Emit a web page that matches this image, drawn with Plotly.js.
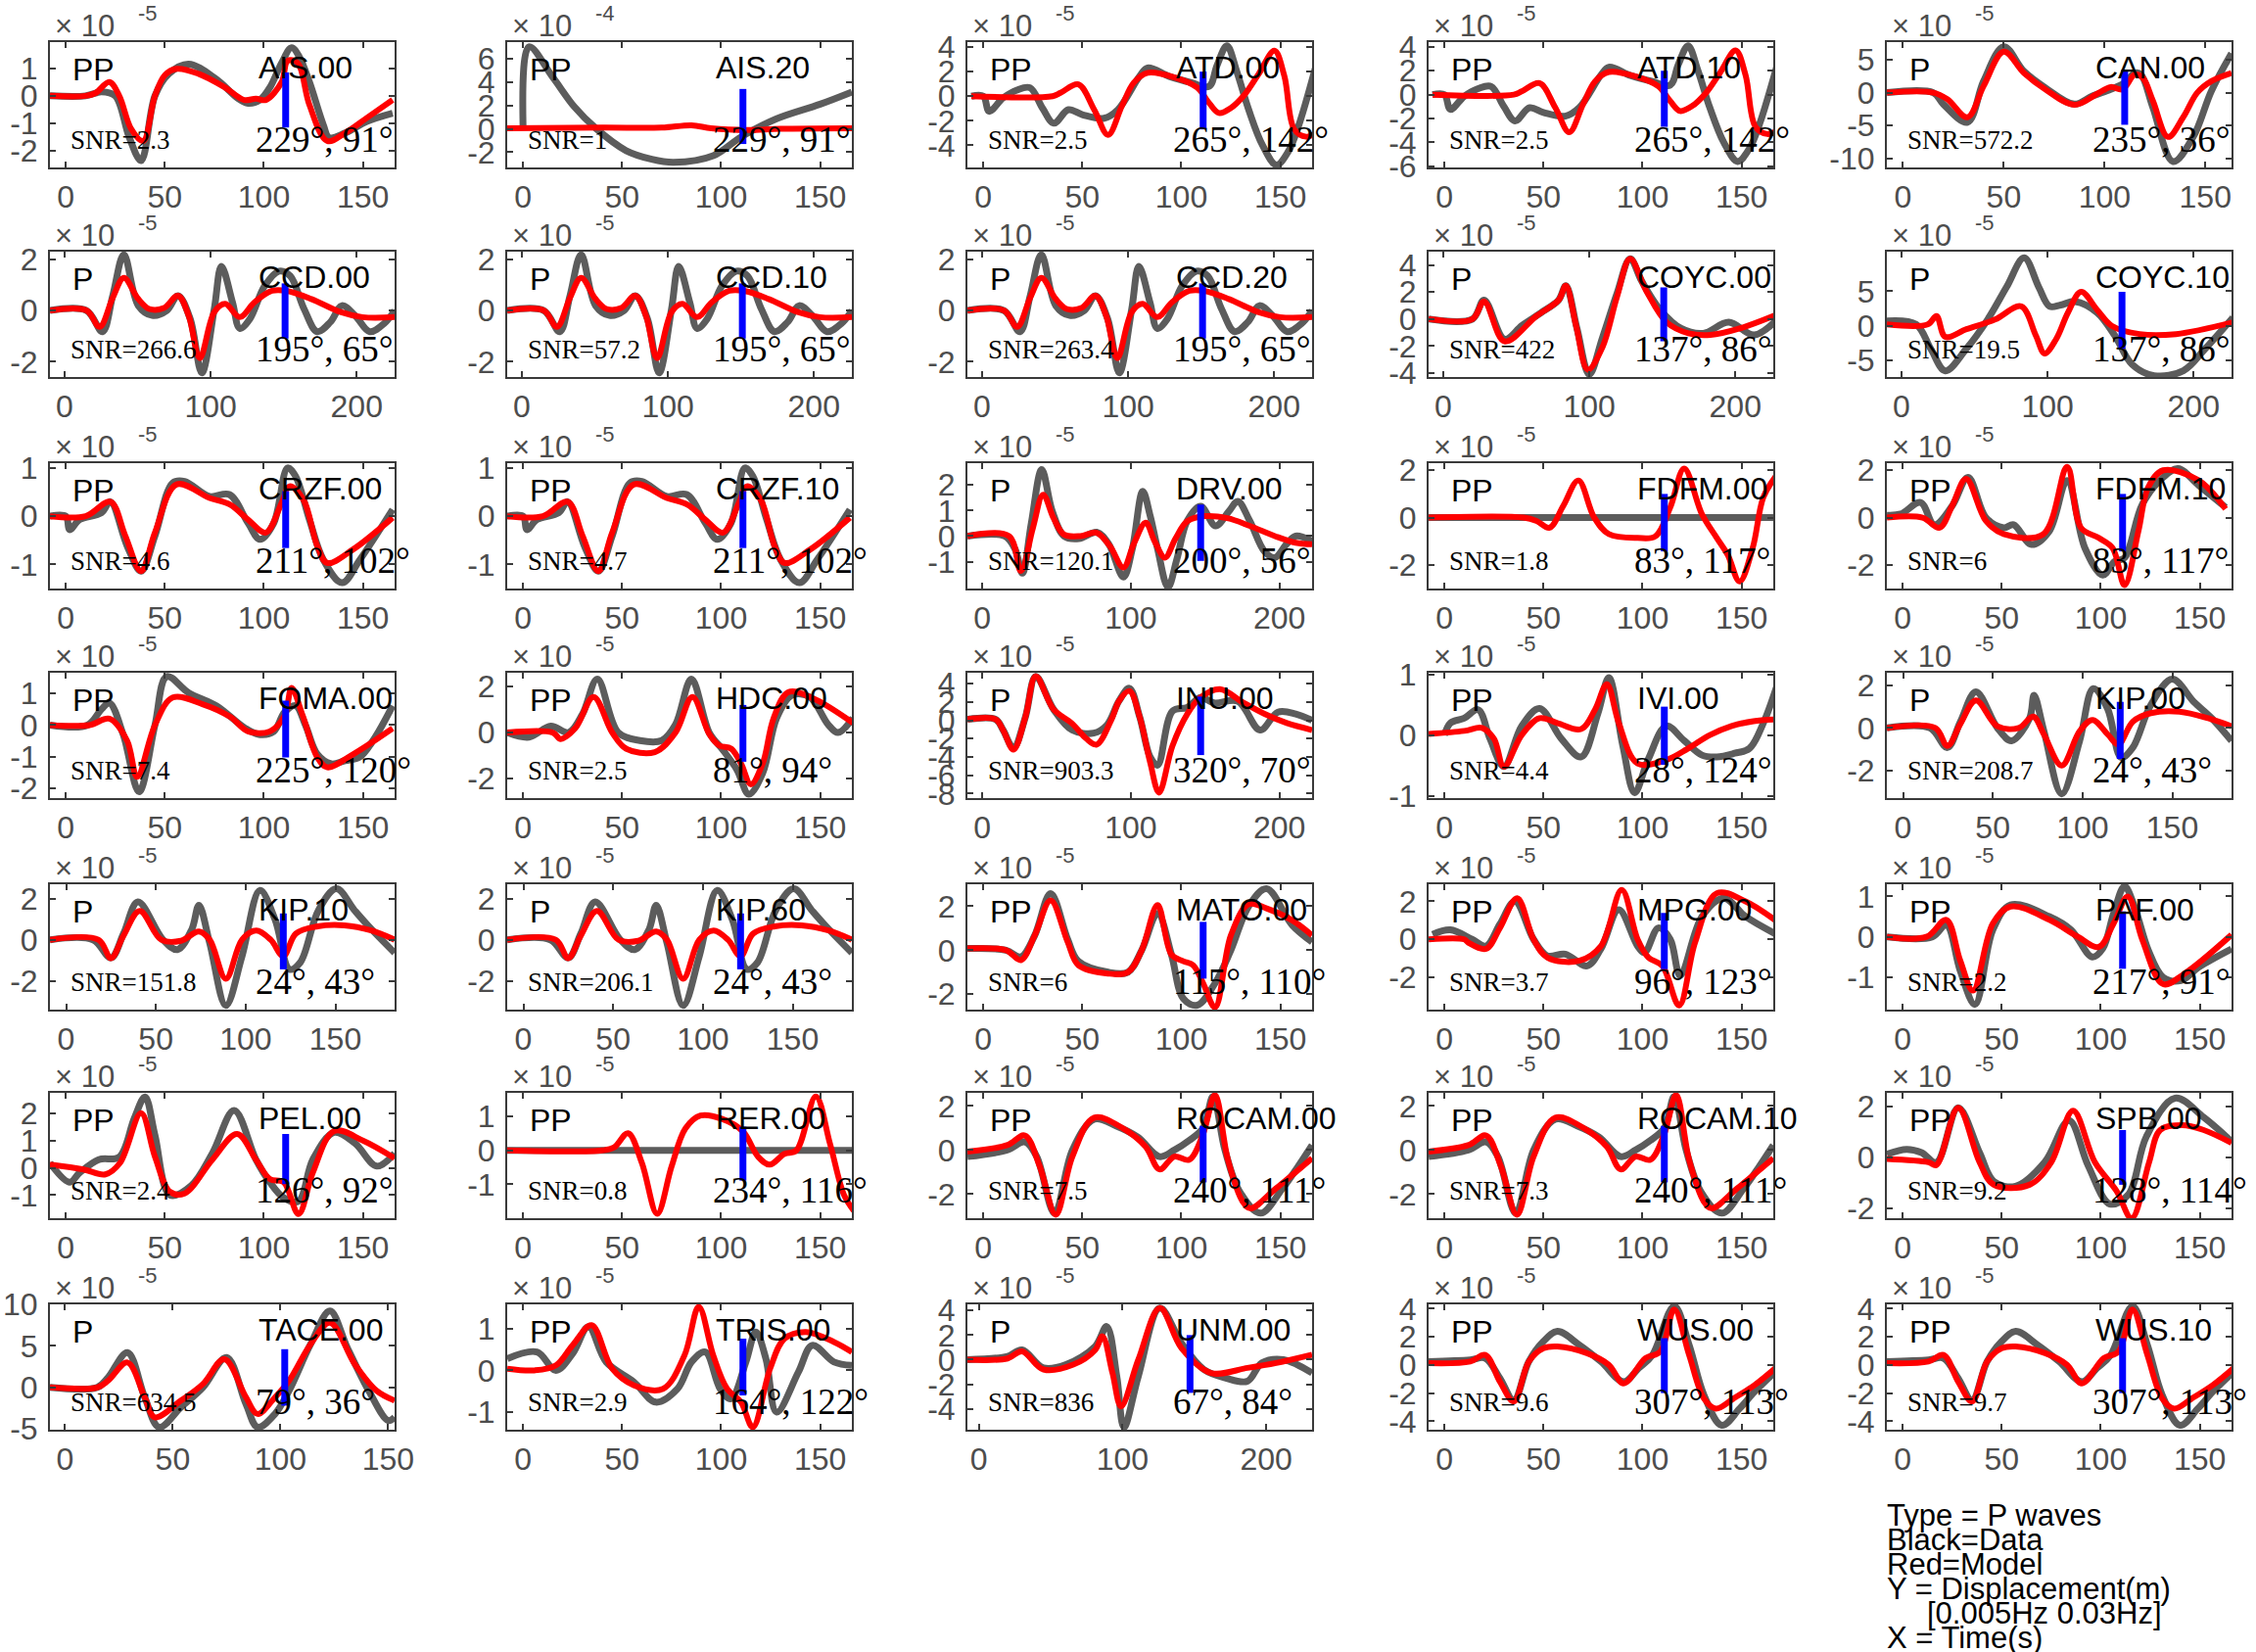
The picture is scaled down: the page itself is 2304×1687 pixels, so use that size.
<!DOCTYPE html>
<html><head><meta charset="utf-8">
<script src="https://cdn.plot.ly/plotly-3.0.1.min.js"></script>
<style>body{margin:0;background:#fff}</style>
</head><body><div id="chart" style="width:2304px;height:1687px"></div>
<script>
// ---------------- data (time s, displacement in units of 10^exp m) ----------------
const stations = ['AIS.00','AIS.20','ATD.00','ATD.10','CAN.00','CCD.00','CCD.10','CCD.20','COYC.00','COYC.10','CRZF.00','CRZF.10','DRV.00','FDFM.00','FDFM.10','FOMA.00','HDC.00','INU.00','IVI.00','KIP.00','KIP.10','KIP.60','MATO.00','MPG.00','PAF.00','PEL.00','RER.00','ROCAM.00','ROCAM.10','SPB.00','TACE.00','TRIS.00','UNM.00','WUS.00','WUS.10'];
const phases = ['PP','PP','PP','PP','P','P','P','P','P','P','PP','PP','P','PP','PP','PP','PP','P','PP','P','P','P','PP','PP','PP','PP','PP','PP','PP','PP','P','PP','P','PP','PP'];
const snr = ['2.3','1','2.5','2.5','572.2','266.6','57.2','263.4','422','19.5','4.6','4.7','120.1','1.8','6','7.4','2.5','903.3','4.4','208.7','151.8','206.1','6','3.7','2.2','2.4','0.8','7.5','7.3','9.2','634.5','2.9','836','9.6','9.7'];
const azimuth = [229,229,265,265,235,195,195,195,137,137,211,211,200,83,83,225,81,320,28,24,24,24,115,96,217,126,234,240,240,128,79,164,67,307,307];
const distance = [91,91,142,142,36,65,65,65,86,86,102,102,56,117,117,120,94,70,124,43,43,43,110,123,91,92,116,111,111,114,36,122,84,113,113];
const exponent = [-5,-4,-5,-5,-5,-5,-5,-5,-5,-5,-5,-5,-5,-5,-5,-5,-5,-5,-5,-5,-5,-5,-5,-5,-5,-5,-5,-5,-5,-5,-5,-5,-5,-5,-5];

const AIS00_data = [[-8,0],[10,0],[15,0.1],[18,0.15],[25,0],[32,-1.5],[38,-2.35],[45,0],[52,0.8],[62,1.15],[76,0.6],[87,-0.1],[92,-0.27],[98,-0.15],[103,0.3],[109,1.2],[114,1.75],[118,1.4],[123,0.5],[130,-1.05],[133,-1.52],[141,-1.35],[152,-0.93],[165,-0.63]];
const AIS00_model = [[-8,0],[10,0],[15,0.1],[22,0.5],[27,0],[33,-1.2],[39,-1.64],[45,0],[50,0.75],[56,0.98],[67,0.8],[80,0.32],[90,-0.15],[96,-0.1],[101,-0.15],[109,0.5],[112,1.27],[117,1.2],[123,-0.33],[132,-1.64],[141,-1.35],[152,-0.8],[165,-0.15]];
const AIS20_data = [[0,0.2],[3,7.0],[15,4.4],[26,1.86],[37,0],[52,-1.86],[65,-2.6],[76,-2.86],[96,-2.3],[110,-0.7],[128,0.86],[150,2.1],[166,3.14]];
const AIS20_model = [[-8,0.05],[40,0.1],[70,0.1],[85,0.3],[95,0.05],[113,-0.1],[130,0.0],[166,0.05]];
const ATD_data = [[-6,0],[0,0],[3,-1.23],[10,-0.14],[17,0.5],[23.6,0.68],[30,-1.0],[35.6,-2.2],[43,-1.1],[50,-1.5],[61,-1.8],[68,-1.1],[79,1.64],[83,2.3],[94,1.6],[105,1.1],[114,0.8],[118,2.5],[123,4.1],[128,2.0],[134,-1.1],[141,-4.0],[148,-5.6],[154,-4.5],[159,-2.5],[168,2.5]];
const ATD_model = [[-6,0],[35,0],[39,0.27],[48,0.96],[56,-1.1],[63,-3.15],[70,-0.8],[76,1.1],[83,1.9],[97,1.5],[108,0.7],[114,-0.55],[119,-1.37],[125,-0.96],[132,0.14],[139,1.8],[147,3.7],[152,1.64],[157,-2.7],[163,-3.3],[168,-3.0]];
const CAN_data = [[-8,0],[15,0],[20,-1.75],[32,-4.5],[40,1.75],[50,7.0],[60,3.25],[70.6,0.75],[85,-1.75],[94,-0.5],[103,0.5],[110,1.5],[115,3.0],[118,2.8],[124,-2.25],[134,-10.5],[144,-6.75],[153,0.25],[163,6.0]];
const CAN_model = [[-8,0],[15,0],[22,-1.0],[32,-3.75],[40,1.0],[50,6.25],[60,3.0],[70.6,0.5],[85,-1.85],[96,-0.25],[103,0.85],[109,0.5],[115,2.75],[119,2.25],[124,-1.25],[131.5,-6.75],[139,-3.75],[146,0],[153,1.75],[163,3.0]];
const CCD_data = [[-10,0],[15,0],[26,-0.83],[33,0.58],[40.6,2.18],[50.5,0.19],[60,-0.19],[70,0],[77.7,0.58],[86,-0.32],[94,-2.44],[102.5,0.06],[107.4,1.73],[115,0.32],[120,-0.7],[127,-0.32],[137,0.96],[147,1.54],[154.5,1.35],[164,0.06],[173,-0.83],[182,-0.45],[190,0.19],[199,-0.2],[209,-0.83],[219,-0.5],[226,0]];
const CCD_model = [[-10,0],[15,0],[24,-0.64],[33,0.5],[40.6,1.28],[50.5,0.45],[58,0.06],[68,0.1],[77.7,0.58],[85,-0.2],[92.6,-1.86],[102.5,-0.06],[110,0.26],[120,-0.26],[130,0.32],[142,0.77],[152,0.77],[169,0.45],[189,-0.06],[204,-0.26],[226,-0.26]];
const COYC00_data = [[-10,0],[20,0],[28,1.4],[42,-1.5],[54,-0.47],[67,0.47],[79,1.4],[84,2.47],[91.6,-0.7],[100,-4.1],[109,-1.4],[119,1.9],[128,4.47],[136,2.8],[148.5,0.7],[163,-0.7],[178,-1.06],[195.5,-0.24],[213,-1.18],[229,0]];
const COYC00_model = [[-10,0],[20,0],[28,1.3],[42,-1.65],[64,0.24],[79,1.4],[84,2.47],[91,-0.5],[99,-3.76],[109,-2.1],[119,1.65],[128,4.47],[139,2.1],[153,-0.24],[168,-1.06],[183,-1.18],[203,-0.7],[229,0.35]];
const COYC10_data = [[-10,0.7],[10,0.2],[20,-3.3],[30,-6.5],[44.5,-3.3],[59,0.9],[72,5.6],[84,9.8],[94,5.6],[101.5,2.8],[109,3.0],[119,3.5],[134,1.9],[146,-1.4],[158,-5.6],[173,-7.2],[193,-6.5],[208,-3.3],[227,1.2]];
const COYC10_model = [[-10,0.2],[18,0.2],[24,1.4],[30,-1.6],[44.5,-0.5],[64,0.9],[82,2.8],[92,-1.4],[98,-4.0],[106,-1.9],[114,1.9],[123,4.9],[134,2.3],[144,0],[163,-1.2],[188,-1.2],[227,0.5]];
const CRZF_data = [[-8,0],[0,0],[2,-0.28],[7,-0.07],[18,0.07],[22.5,0.3],[31,-0.62],[38,-1.14],[45,-0.41],[54,0.69],[60,0.72],[72.5,0.41],[82.6,0.45],[92,-0.14],[98,-0.48],[105,-0.14],[112,1.0],[116,0.83],[123,-0.07],[130,-0.9],[139.5,-1.38],[148.5,-0.9],[165,0.14]];
const CRZF_model = [[-8,0],[10,0],[22.5,0.3],[30,-0.4],[38,-1.14],[45,-0.34],[56,0.66],[72.5,0.38],[83,0.24],[92,-0.07],[101,-0.34],[109,0.28],[113,0.62],[120,0.34],[127,-0.62],[132,-0.97],[145,-0.69],[165,-0.03]];
const DRV_data = [[-10,0],[15,0],[22,-0.5],[27,-1.45],[33,0.5],[40,2.6],[47,1.0],[55,0.0],[65,-0.1],[77,0.15],[85,-0.3],[95,-1.6],[101,-0.5],[108,1.75],[113,0.8],[118,-0.5],[125,-2.0],[131,-0.9],[138,0.6],[147,1.17],[157,0.4],[166,0.97],[172,1.36],[180,0.6],[190,-0.6],[197,-0.84],[205,-0.3],[211,0],[222,-0.2]];
const DRV_model = [[-10,0],[18,0],[26,-1.36],[34,0.3],[41,1.62],[48,0.7],[55,0.06],[66,0.0],[77,0.13],[86,-0.4],[95,-1.23],[102,-0.3],[110,0.52],[116,-0.2],[123,-0.84],[130,-0.1],[138,0.58],[150,0.78],[165,0.7],[180,0.4],[197,0],[211,-0.26],[222,-0.32]];
const FDFM00_data = [[-8,0],[80,0],[166,0]];
const FDFM00_model = [[-8,0],[40,0],[46.5,-0.14],[53,-0.43],[60,0.5],[67.6,1.57],[75.6,0],[83,-0.7],[97.5,-0.86],[106.5,-0.79],[114,0.43],[121,2.07],[130,0.14],[137.5,-0.86],[143,-1.57],[149,-2.7],[155.6,-1.29],[161,0.86],[167.6,1.79]];
const FDFM10_data = [[-8,0.1],[-1,0.15],[9,0.64],[16,-0.3],[25,0.5],[33,1.7],[42,0],[51,-0.43],[56,-0.3],[65,-1.14],[74,-0.57],[83,1.57],[92,-1.29],[101,-2.43],[107,-1.86],[112,-1.7],[121,0.57],[131.5,1.7],[139,2.07],[149.5,1.36],[163,0.43]];
const FDFM10_model = [[-8,0],[10,0],[18.6,-0.43],[25,0.5],[32,1.64],[42,-0.14],[51,-0.7],[71,-0.7],[83,2.14],[90,-0.43],[99,-0.86],[106,-1.29],[112,-2.86],[119,-0.57],[124,1.29],[131.5,2.0],[149.5,1.57],[163,0.36]];
const FOMA_data = [[-8,0],[11,0],[18,0.5],[22,0.7],[29,-0.3],[37,-2.1],[45,0],[51,1.53],[62,1.02],[76,0.61],[90.6,-0.1],[98,-0.3],[105,-0.2],[110.5,0.41],[116,0.61],[121,0],[127,-0.92],[134,-1.22],[141,-1.12],[148.5,-1.0],[156,-0.4],[165,0.61]];
const FOMA_model = [[-8,0],[12,0],[22,0.2],[31,-0.5],[36,-1.63],[45,0],[54,0.87],[69,0.66],[83,0.26],[92,-0.2],[103,-0.2],[110.5,0.3],[114,1.17],[119.6,0.3],[127,-1.02],[132,-1.33],[145,-0.92],[165,-0.1]];
const HDC_data = [[-8,0],[3,-0.2],[14,0.28],[23,0],[30,0.8],[37.5,2.32],[48,0],[59,-0.35],[70,-0.35],[77,0.35],[85,2.32],[94,0],[101,-0.77],[108,-1.62],[114,-2.68],[121,-1.76],[128,0.63],[135.6,1.62],[144.7,1.55],[154,0.35],[159,0],[166.5,0.63]];
const HDC_model = [[-8,0],[15,0],[19,-0.28],[26.5,0.2],[35.6,1.55],[45,0],[52,-0.7],[66.5,-0.85],[77,0],[85.5,1.55],[94,-0.07],[99,-0.56],[105,-0.7],[110,-1.34],[115,-2.25],[121,-1.34],[126.5,0.63],[134,1.76],[146.5,1.48],[166.5,0.42]];
const INU_data = [[-10,0.1],[9,0.1],[14,-1.06],[21,-3.0],[29,0.35],[36,4.8],[48,1.2],[60.5,-1.06],[75,-1.4],[84,-0.5],[92,2.1],[99,3.5],[106,0.35],[113,-4.0],[118,-4.9],[128,1.0],[138,1.4],[147,2.5],[156,1.9],[172,2.1],[187,-1.06],[199,0.9],[211,0.7],[222,0]];
const INU_model = [[-10,0.1],[9,0.1],[14,-1.06],[21,-3.2],[29,0.35],[36,4.8],[48,1.2],[60.5,-0.35],[70,-2.0],[77,-2.65],[87,0.1],[92,2.1],[99,3.2],[106,0.35],[113,-4.6],[119,-7.9],[128,-2.8],[138,0.7],[147,2.5],[160,3.4],[175,2.0],[190,0.7],[205,-0.3],[222,-1.06]];
const IVI_data = [[0,0.0],[3,0.2],[10,0.28],[17,0.42],[23,-0.06],[30,-0.52],[39,0.15],[48,0.44],[59,-0.06],[69,-0.36],[77.5,0.36],[83,0.95],[90,-0.17],[96,-0.95],[103,-0.39],[112,0.15],[121,-0.09],[130,-0.33],[137.5,-0.36],[146.5,-0.3],[154,-0.22],[161,0.2],[167.6,0.79]];
const IVI_model = [[-8,0.02],[10,0.07],[19,0.12],[25,-0.06],[30,-0.52],[39,0],[48,0.28],[57,0.2],[69,0.1],[76,0.42],[82,0.84],[88,0.2],[97.5,-0.47],[112,-0.41],[123,-0.22],[134,0],[145,0.15],[156,0.23],[167.6,0.26]];
const KIP00_data = [[-9,0],[15,0],[24.7,-0.92],[32,0.3],[40.6,1.7],[52.6,0],[60.5,-0.6],[70.5,0.46],[73,1.54],[78.5,-0.15],[88.4,-3.1],[98.4,-0.6],[106,1.85],[114,0.9],[121.5,-1.38],[128,-0.92],[138,1.08],[150,2.3],[162,1.23],[172,0.46],[183,-0.6]];
const KIP00_model = [[-9,0],[18,0],[24.7,-0.85],[32,0.2],[40.6,1.3],[52.6,0.08],[64.5,0],[72.5,0.54],[78.5,-0.3],[88.4,-1.77],[98.4,-0.15],[105.6,0.38],[114,-0.3],[120,-0.77],[128,0.3],[138,0.7],[154,0.77],[170,0.46],[183,0.08]];
const KIP10_data = [[-9,0],[15,0],[25,-0.88],[32,0.3],[40,1.84],[54,0],[62,-0.48],[70,0.5],[74,1.68],[80,-0.16],[89,-3.2],[98,-0.8],[108,2.4],[116.5,0.96],[124.5,-1.44],[130.5,-1.1],[140.6,1.44],[150.6,2.48],[160.6,1.44],[168.7,0.64],[183,-0.64]];
const KIP10_model = [[-9,0],[18,0],[25,-0.9],[32,0.2],[41,1.4],[53,0],[64,-0.05],[74,0.4],[80,0],[89,-1.9],[98,0],[106,0.45],[114,0],[121,-0.8],[128,0.3],[140,0.65],[155,0.7],[170,0.45],[183,0]];
const MATO_data = [[-8,0.08],[11.5,0],[19,-0.3],[26,0.68],[34,2.58],[42.6,0.5],[48,-0.5],[63,-1.0],[73,-1.0],[80,0],[88,1.67],[95,-0.2],[101,-2.2],[108,-2.5],[117,-1.5],[125,0],[134,2.0],[143,2.8],[156,1.14],[166,0.38]];
const MATO_model = [[-8,0.08],[11.5,0],[19,-0.45],[26,0.68],[34,2.27],[42.6,0.38],[48,-0.68],[63,-1.06],[73,-1.0],[80,0],[88,2.05],[95,-0.2],[101,-0.5],[106,-0.68],[111,-1.5],[117,-2.6],[125,0.68],[134,2.1],[143,1.9],[156,1.36],[166,0.68]];
const MPG_data = [[-6,0.26],[3,0.5],[14,0],[21,-0.35],[28,0.8],[35.6,2.0],[45,0],[52,-0.87],[61,-0.78],[72,-1.4],[79,-0.5],[88,1.56],[97.5,-0.35],[101,-0.7],[108,0.6],[114,0],[119,-1.9],[130,1.2],[141,2.17],[152,1.2],[167.6,0.26]];
const MPG_model = [[-8,0],[10,0],[12,-0.17],[21,-0.5],[28,0.6],[36.7,2.17],[45,0],[52,-0.96],[68,-1.13],[79,-0.35],[89.5,2.6],[97.5,0],[103,-0.96],[110,-1.39],[118.5,-3.48],[126.5,-0.17],[137.5,2.43],[152,2.0],[167.6,0.96]];
const PAF_data = [[-8,0],[15,0],[22,0.3],[29,-0.83],[36.5,-1.67],[45.5,0.17],[54.5,0.79],[74,0.5],[85,0.17],[95.7,-0.5],[101,-0.29],[106.5,0.58],[112,1.25],[117,0.75],[124,-0.33],[131.5,-1.0],[140.5,-1.08],[149.5,-0.75],[166,-0.3]];
const PAF_model = [[-8,0],[12,0],[22,0.42],[29,-0.58],[35.5,-1.33],[45.5,0.33],[54.5,0.75],[74,0.42],[88.5,0],[99,-0.25],[106.5,0.33],[113.6,1.0],[121,-0.08],[131.5,-1.17],[142,-0.92],[166,0.05]];
const PEL_data = [[-8,0.18],[2,-0.53],[7,-0.18],[16.6,0.3],[27,0.4],[34.6,1.82],[40,2.6],[45,1.2],[52.6,-1.0],[63.4,-0.65],[74,0.53],[85,2.1],[96,0.3],[103,-0.53],[110,-1.1],[117.5,-1.23],[124.7,0.3],[135.5,1.3],[146,0.9],[157,0.06],[166,0.53]];
const PEL_model = [[-8,0.12],[9,-0.06],[20,-0.24],[27.4,0.18],[38,2.0],[45,0.41],[52.6,-0.88],[60,-0.94],[74,0.3],[86.5,1.24],[96,0.3],[103,-0.41],[110,-0.53],[117.5,-1.7],[124.7,-0.18],[135.5,1.35],[150,1.0],[166,0.35]];
const RER_data = [[-8,0],[80,0],[167,0]];
const RER_model = [[-8,0],[40,0],[46,0.09],[53,0.51],[60,-0.37],[67.7,-1.87],[75,-0.47],[82,0.65],[89.6,1.03],[100.5,0.93],[111,0.56],[118.7,-0.19],[124.5,-0.42],[132,-0.1],[138,0],[147.8,1.59],[155,0.19],[162,-1.31],[167,-1.78]];
const ROCAM_data = [[-8,-0.3],[12,0],[21,0.37],[27,-0.3],[36,-2.87],[45,0],[56,1.4],[67,1.1],[78,0.59],[89,-0.3],[96.5,0],[104,0.44],[111,1.0],[116,2.43],[122,0],[129.5,-1.9],[140,-2.87],[151,-1.76],[159,-0.74],[166,0.22]];
const ROCAM_model = [[-8,-0.07],[12,0.22],[21,0.66],[28.5,-0.74],[36.6,-2.94],[45,-0.3],[56,1.47],[71,0.96],[82,0.15],[89,-0.88],[96.5,-0.3],[104,-0.44],[111,0.74],[117,2.5],[123.5,-0.44],[131,-2.35],[135,-2.65],[147.6,-1.76],[166,-0.37]];
const SPB_data = [[-8,0.13],[2,0.32],[9.5,0.19],[17,-0.2],[28,1.96],[38.8,0.19],[46,-0.95],[57,-1.14],[71.7,-0.19],[84,1.46],[93.6,-0.32],[104.6,-1.84],[114,-1.46],[123,0.82],[137.5,2.34],[152,1.58],[166,0.63]];
const SPB_model = [[-8,-0.06],[13,-0.19],[17,-0.3],[28,1.96],[38.8,-0.19],[46,-1.08],[64,-1.08],[75,-0.19],[86,1.84],[97,-0.19],[108,-1.33],[115.6,-2.4],[124.4,-0.19],[130,1.08],[141,1.27],[152,1.08],[166,0.57]];
const TACE_data = [[-7,0],[15,0],[20,1.2],[29,4.2],[37,-1.2],[43.7,-4.8],[53.8,-2.4],[64,0],[75,3.6],[84,-2.0],[89.4,-4.8],[97.5,-3.2],[104,-0.4],[114,5.2],[123,9.2],[131,4.8],[141,-0.4],[150,-4.0],[153,-3.6]];
const TACE_model = [[-7,0],[15,0],[20,0.8],[29,3.0],[37,-1.2],[41.7,-3.6],[53.8,-1.6],[64,0.4],[74,3.4],[84,-1.2],[89.4,-3.2],[97.5,-1.2],[104,0.8],[114,5.2],[123,7.8],[134.5,2.8],[144.6,-0.4],[153,-1.6]];
const TRIS_data = [[-8,0.28],[7,0.44],[16.6,0],[25,0.4],[33,1.04],[42,0.2],[56,-0.28],[67,-0.76],[78,-0.44],[85,0.2],[92,0.44],[99.5,-0.44],[105,-0.68],[112.5,0.2],[117.5,0.92],[122.6,0.28],[128,-1.0],[139,-0.04],[146,0.6],[157,0.2],[166,0.12]];
const TRIS_model = [[-8,0.04],[5.8,0],[16.6,0.12],[25,0.6],[34.6,1.08],[45,0.04],[56,-0.36],[70.7,-0.44],[81.5,0.36],[88.7,1.52],[96,0.36],[103,-0.44],[110,-0.76],[116,-1.36],[124.7,0.04],[132,0.76],[142.8,0.92],[157,0.68],[166,0.44]];
const UNM_data = [[-8,0],[20,0.27],[30,0.8],[45,-0.67],[60.6,-0.4],[81,1.08],[89,2.7],[96,-1.35],[101,-5.5],[111,-1.35],[126,4.2],[141,1.35],[156.6,-0.8],[172,-1.5],[187,-1.75],[197,-0.27],[212,0],[232,-1.08]];
const UNM_model = [[-8,0],[20,0.1],[30,0.68],[45,-0.8],[65.7,-0.4],[81,0.8],[86,1.9],[93,-1.08],[99,-3.8],[111,0],[126,4.2],[141,0.95],[161.6,-1.08],[187,-0.67],[207,-0.27],[232,0.4]];
const WUS_data = [[-8,0.24],[13,0.36],[20.6,0.48],[28,-0.95],[35,-2.5],[42.6,0.24],[50,1.67],[57,2.38],[68,1.43],[79,0.24],[90.4,-1.2],[98,-0.24],[105,0.71],[116,4.17],[123.5,1.43],[131,-2.14],[140,-4.29],[149,-3.1],[156.6,-1.9],[167,-0.48]];
const WUS_model = [[-8,0.12],[13,0.24],[20.6,0.71],[28,-1.19],[35,-2.6],[42.6,0.24],[50,1.19],[57,1.31],[72,0.83],[83,0],[90.4,-1.31],[101.5,0.48],[109,0.95],[116,3.93],[123.5,0.71],[131,-2.38],[137,-3.1],[146,-2.38],[156.6,-1.43],[167,-0.24]];

const dataSeries = [AIS00_data,AIS20_data,ATD_data,ATD_data,CAN_data,CCD_data,CCD_data,CCD_data,COYC00_data,COYC10_data,CRZF_data,CRZF_data,DRV_data,FDFM00_data,FDFM10_data,FOMA_data,HDC_data,INU_data,IVI_data,KIP00_data,KIP10_data,KIP10_data,MATO_data,MPG_data,PAF_data,PEL_data,RER_data,ROCAM_data,ROCAM_data,SPB_data,TACE_data,TRIS_data,UNM_data,WUS_data,WUS_data];
const modelSeries = [AIS00_model,AIS20_model,ATD_model,ATD_model,CAN_model,CCD_model,CCD_model,CCD_model,COYC00_model,COYC10_model,CRZF_model,CRZF_model,DRV_model,FDFM00_model,FDFM10_model,FOMA_model,HDC_model,INU_model,IVI_model,KIP00_model,KIP10_model,KIP10_model,MATO_model,MPG_model,PAF_model,PEL_model,RER_model,ROCAM_model,ROCAM_model,SPB_model,TACE_model,TRIS_model,UNM_model,WUS_model,WUS_model];

// picked time marker (blue bar): time and amplitude extent
const pickTime = [111,111,111,111,110,151,151,151,151,151,111,111,147,111,111,111,111,147,111,121,121,121,111,111,111,111,111,111,111,111,102,111,147,111,111];
const pickLow  = [-1.15,-1.3,-2.7,-2.7,-4.9,-1.1,-1.1,-1.1,-1.65,-3.3,-0.66,-0.66,-0.97,-1.43,-1.43,-1.02,-1.27,-3.8,-0.49,-1.46,-1.44,-1.44,-1.29,-1.57,-0.79,-0.6,-0.89,-1.47,-1.47,-1.08,-2.2,-0.6,-2.7,-2.0,-2.0];
const pickHigh = [0.85,3.4,2.0,2.0,3.5,1.06,1.06,1.06,2.35,4.9,0.52,0.52,1.23,1.0,1.0,0.77,1.2,2.6,0.47,1.23,1.28,1.28,1.29,1.39,0.63,1.24,0.7,1.1,1.1,1.08,4.6,0.76,2.0,1.9,1.9];

// axis tick labels
const yTickVals = [[-2,-1,0,1],[-2,0,2,4,6],[-4,-2,0,2,4],[-6,-4,-2,0,2,4],[-10,-5,0,5],[-2,0,2],[-2,0,2],[-2,0,2],[-4,-2,0,2,4],[-5,0,5],[-1,0,1],[-1,0,1],[-1,0,1,2],[-2,0,2],[-2,0,2],[-2,-1,0,1],[-2,0,2],[-8,-6,-4,-2,0,2,4],[-1,0,1],[-2,0,2],[-2,0,2],[-2,0,2],[-2,0,2],[-2,0,2],[-1,0,1],[-1,0,1,2],[-1,0,1],[-2,0,2],[-2,0,2],[-2,0,2],[-5,0,5,10],[-1,0,1],[-4,-2,0,2,4],[-4,-2,0,2,4],[-4,-2,0,2,4]];
const xTicks150 = [0,50,100,150];
const xTicks200 = [0,100,200];
const legendLines = ['Type = P waves','Black=Data','Red=Model','Y = Displacement(m)','[0.005Hz 0.03Hz]','X = Time(s)'];

// ---------------- axis configuration ----------------
const yRanges = [[-2.6,1.95],[-3.3,7.4],[-5.8,4.4],[-6.1,4.4],[-11.4,7.7],[-2.6,2.3],[-2.6,2.3],[-2.6,2.3],[-4.3,5.0],[-7.4,10.7],[-1.5,1.1],[-1.5,1.1],[-2.05,2.85],[-3.0,2.3],[-3.0,2.3],[-2.3,1.65],[-2.85,2.6],[-8.5,5.2],[-1.04,1.03],[-3.3,2.6],[-3.4,2.7],[-3.4,2.7],[-2.7,3.0],[-3.7,2.9],[-1.8,1.3],[-1.85,2.75],[-2.0,1.7],[-3.1,2.6],[-3.1,2.6],[-2.4,2.55],[-5.1,10.0],[-1.42,1.58],[-5.7,4.5],[-4.6,4.3],[-4.6,4.3]];
const xKind = ['A','A','A','A','N','C','C','C','C','C','A','A','D','A','A','A','A','D','A','K','K','K','A','A','A','A','A','A','A','A','T','A','U','A','A'];
const xRangeOf = {A:[-8,166],N:[-8,163],C:[-10,226],D:[-10,222],K:[-9,183],T:[-7,153],U:[-8,232]};

const W = 2304, H = 1687;
const colLeft = [51,518,988,1459,1927], panelW = 352;
const rowTop = [43,257,473,687,903,1116,1332], panelH = 128;

const sans = 'Liberation Sans, Arial, sans-serif';
const serif = 'Liberation Serif, Times New Roman, serif';
const tickFont = {family:sans, size:32, color:'#4d4d4d'};
const traces = [], annotations = [];
const layout = {width:W, height:H, margin:{l:0,r:0,t:0,b:0}, paper_bgcolor:'#fff', plot_bgcolor:'#fff', showlegend:false};

stations.forEach((st, i) => {
  const n = i + 1, sfx = n === 1 ? '' : String(n);
  const r = Math.floor(i / 5), c = i % 5;
  const x0 = colLeft[c] / W, x1 = (colLeft[c] + panelW) / W;
  const y1 = 1 - rowTop[r] / H, y0 = 1 - (rowTop[r] + panelH) / H;
  const xt = (xKind[i] === 'C' || xKind[i] === 'D' || xKind[i] === 'U') ? xTicks200 : xTicks150;
  const axCommon = {showgrid:false, zeroline:false, showline:true, mirror:'ticks', linecolor:'#3a3a3a', linewidth:2,
    ticks:'inside', ticklen:6, tickwidth:2, tickcolor:'#3a3a3a', tickfont:tickFont, tickmode:'array'};
  layout['xaxis' + sfx] = Object.assign({}, axCommon, {domain:[x0, x1], anchor:'y' + sfx, range:xRangeOf[xKind[i]],
    tickvals:xt, ticktext:xt.map(String), ticklabelstandoff:1});
  layout['yaxis' + sfx] = Object.assign({}, axCommon, {domain:[y0, y1], anchor:'x' + sfx, range:yRanges[i],
    tickvals:yTickVals[i], ticktext:yTickVals[i].map(String), ticklabelstandoff:4});

  const d = dataSeries[i], m = modelSeries[i];
  traces.push({x:d.map(p => p[0]), y:d.map(p => p[1]), xaxis:'x' + sfx, yaxis:'y' + sfx, mode:'lines',
    line:{color:'#5c5c5c', width:7, shape:'spline', smoothing:1}, hoverinfo:'skip'});
  traces.push({x:m.map(p => p[0]), y:m.map(p => p[1]), xaxis:'x' + sfx, yaxis:'y' + sfx, mode:'lines',
    line:{color:'#ff0000', width:6, shape:'spline', smoothing:1}, hoverinfo:'skip'});
  traces.push({x:[pickTime[i], pickTime[i]], y:[pickLow[i], pickHigh[i]], xaxis:'x' + sfx, yaxis:'y' + sfx, mode:'lines',
    line:{color:'#0000ff', width:7}, hoverinfo:'skip'});

  const xr = 'x' + sfx + ' domain', yr = 'y' + sfx + ' domain';
  annotations.push({xref:xr, yref:yr, x:0, y:1, xanchor:'left', yanchor:'middle', xshift:3, yshift:17, showarrow:false,
    text:'× 10', font:{family:sans, size:31, color:'#4d4d4d'}});
  annotations.push({xref:xr, yref:yr, x:0, y:1, xanchor:'left', yanchor:'middle', xshift:88, yshift:30, showarrow:false,
    text:String(exponent[i]), font:{family:sans, size:22, color:'#4d4d4d'}});
  annotations.push({xref:xr, yref:yr, x:0.06, y:0.78, xanchor:'left', yanchor:'middle', showarrow:false,
    text:phases[i], font:{family:sans, size:32, color:'#000'}});
  annotations.push({xref:xr, yref:yr, x:0.60, y:0.80, xanchor:'left', yanchor:'middle', showarrow:false,
    text:st, font:{family:sans, size:32, color:'#000'}});
  annotations.push({xref:xr, yref:yr, x:0.055, y:0.22, xanchor:'left', yanchor:'middle', showarrow:false,
    text:'SNR=' + snr[i], font:{family:serif, size:27, color:'#000'}});
  annotations.push({xref:xr, yref:yr, x:0.59, y:0.22, xanchor:'left', yanchor:'middle', showarrow:false,
    text:azimuth[i] + '°, ' + distance[i] + '°', font:{family:serif, size:37, color:'#000'}});
});

const legendY = [1547,1572,1597,1622,1647,1672];
const legendX = [1925,1925,1925,1925,1966,1925];
legendLines.forEach((t, k) => {
  annotations.push({xref:'paper', yref:'paper', x:legendX[k] / W, y:1 - legendY[k] / H, xanchor:'left', yanchor:'middle',
    showarrow:false, text:t, font:{family:sans, size:31, color:'#000'}});
});
layout.annotations = annotations;

Plotly.newPlot('chart', traces, layout, {staticPlot:true, displayModeBar:false});
</script></body></html>
